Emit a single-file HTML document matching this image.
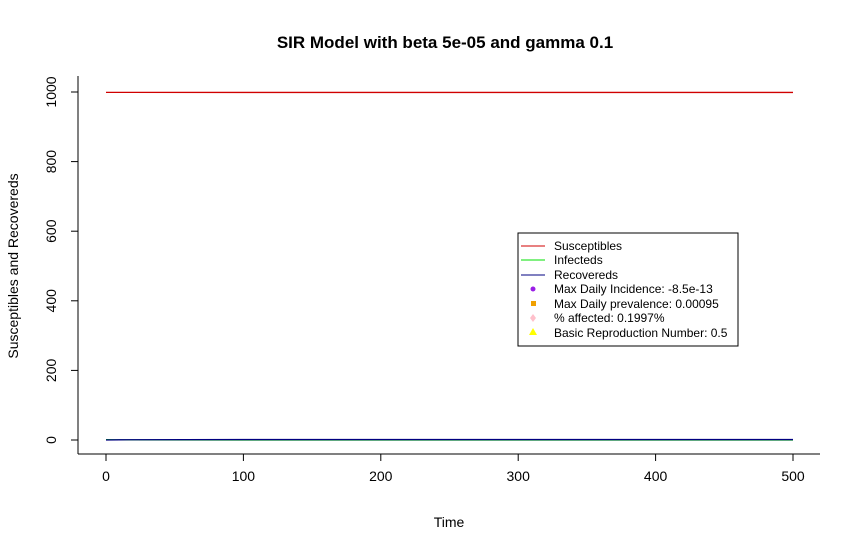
<!DOCTYPE html>
<html><head><meta charset="utf-8"><style>
body{margin:0;background:#fff;}
svg{display:block;font-family:"Liberation Sans",Arial,sans-serif;}
</style></head><body>
<svg id="chart" width="861" height="552">
<text x="445" y="48" text-anchor="middle" font-size="17" font-weight="bold">SIR Model with beta 5e-05 and gamma 0.1</text>
<line x1="78" y1="454" x2="820" y2="454" stroke="#000"/>
<line x1="78" y1="76" x2="78" y2="454" stroke="#000"/>
<text x="449" y="527" text-anchor="middle" font-size="14">Time</text>
<text transform="translate(18,266) rotate(-90)" text-anchor="middle" font-size="14">Susceptibles and Recovereds</text>
<g id="axes"></g><g id="series"></g>
<g>
<rect x="518" y="233" width="220" height="113" fill="#fff" stroke="#000"/>
<line x1="521" y1="246" x2="545" y2="246" stroke="#d00000"/><text x="554" y="250" font-size="12">Susceptibles</text>
<line x1="521" y1="260" x2="545" y2="260" stroke="#00e000"/><text x="554" y="264" font-size="12">Infecteds</text>
<line x1="521" y1="275" x2="545" y2="275" stroke="#000080"/><text x="554" y="279" font-size="12">Recovereds</text>
<circle cx="533" cy="289" r="2.5" fill="#9a1ee6"/><text x="554" y="293" font-size="12">Max Daily Incidence: -8.5e-13</text>
<rect x="531" y="301" width="5" height="5" fill="#f0a000"/><text x="554" y="308" font-size="12">Max Daily prevalence: 0.00095</text>
<polygon points="533,314 536,318 533,322 530,318" fill="#ffc0cb"/><text x="554" y="322" font-size="12">% affected: 0.1997%</text>
<polygon points="533,328 537,335 529,335" fill="#ffff00"/><text x="554" y="337" font-size="12">Basic Reproduction Number: 0.5</text>
</g>
</svg>
<script>
const xTicks=[0,100,200,300,400,500];
const yTicks=[0,200,400,600,800,1000];
const times=[0,10,100,200,300,400,500];
const susceptibles=[999,998.9,998.8,998.8,998.8,998.8,998.8];
const infecteds=[1,0.4,0.01,0,0,0,0];
const recovereds=[0,0.6,1.2,1.2,1.2,1.2,1.2];
const ns="http://www.w3.org/2000/svg";
const X=v=>106+v*(793-106)/500, Y=v=>440-v*(440-92)/1000;
const ax=document.getElementById('axes'), se=document.getElementById('series');
function mk(t,a,p){const e=document.createElementNS(ns,t);for(const k in a)e.setAttribute(k,a[k]);p.appendChild(e);return e;}
xTicks.forEach(v=>{const l=mk('line',{x1:X(v),x2:X(v),y1:454,y2:461,stroke:'#000'},ax);


const t=mk('text',{x:X(v),y:481,'text-anchor':'middle','font-size':14},ax);t.textContent=v;

});
yTicks.forEach(v=>{const l=mk('line',{x1:71,x2:78,y1:Y(v),y2:Y(v),stroke:'#000'},ax);


const t=mk('text',{transform:`translate(56,${Y(v)}) rotate(-90)`,'text-anchor':'middle','font-size':14},ax);t.textContent=v;

});
function line(vals,col,name){const p=mk('polyline',{points:times.map((t,i)=>X(t)+','+Y(vals[i])).join(' '),fill:'none',stroke:col,'stroke-width':1.3},se);

}
line(susceptibles,'#d00000','susceptibles-line');
line(infecteds,'#00c000','infecteds-line');
line(recovereds,'#000080','recovereds-line');
</script>
</body></html>
